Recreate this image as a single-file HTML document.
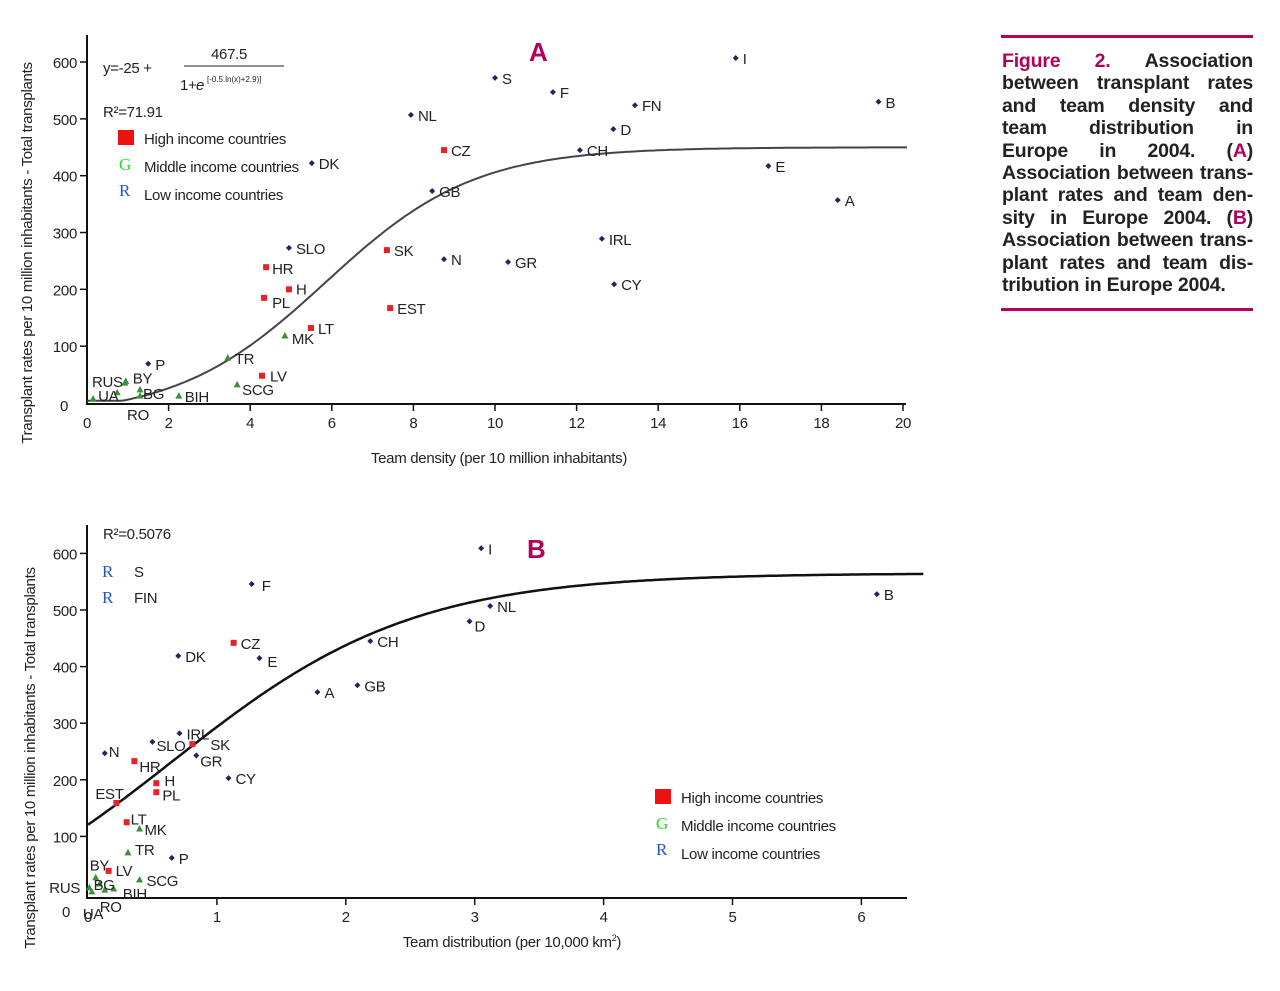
<!DOCTYPE html>
<html><head><meta charset="utf-8">
<style>
html,body{margin:0;padding:0;background:#fff;width:1280px;height:991px;overflow:hidden}
svg{position:absolute;left:0;top:0}
.t{font-family:"Liberation Sans Narrow","Liberation Sans",sans-serif;font-size:15px;letter-spacing:-0.3px;fill:#222}
.cap{position:absolute;left:1002px;top:50px;width:251px;font-family:"Liberation Sans",sans-serif;font-size:19.5px;font-weight:bold;color:#222;line-height:22.4px;letter-spacing:-0.2px}
.cap div{text-align:justify;text-align-last:justify;white-space:nowrap;height:22.4px}
.cap div.last{text-align-last:left}
.mag{color:#b5005a}
.rule{position:absolute;left:1001px;width:252px;height:3px;background:#b5005a}
</style></head><body>
<div class="rule" style="top:35px"></div>
<div class="rule" style="top:308px"></div>
<div class="cap">
<div><span class="mag">Figure&nbsp;&nbsp;2.</span>&nbsp;&nbsp;Association</div>
<div>between transplant rates</div>
<div>and team density and</div>
<div>team distribution in</div>
<div>Europe in 2004. (<span class="mag">A</span>)</div>
<div>Association between trans-</div>
<div>plant rates and team den-</div>
<div>sity in Europe 2004. (<span class="mag">B</span>)</div>
<div>Association between trans-</div>
<div>plant rates and team dis-</div>
<div class="last">tribution in Europe 2004.</div>
</div>
<svg id="svg" width="1280" height="991" xmlns="http://www.w3.org/2000/svg"></svg>
<script>
// Chart A data
const aNames = ["UA","RUS","","BY","BG","RO","P","BIH","TR","SCG","LV","MK","LT","PL","H","HR","SLO","DK","NL","GB","CZ","SK","EST","N","S","GR","F","CH","IRL","CY","D","FN","I","E","A","B"];
const aX = [0.15,0.93,0.74,0.95,1.3,1.3,1.5,2.25,3.45,3.68,4.29,4.85,5.49,4.34,4.95,4.39,4.95,5.51,7.94,8.46,8.75,7.35,7.43,8.75,10.0,10.32,11.42,12.08,12.62,12.92,12.9,13.43,15.9,16.7,18.4,19.4];
const aY = [7,35,18,38,23,12,69,12,79,32,48,118,132,185,200,239,273,422,507,373,445,269,167,253,572,248,547,445,289,209,482,524,607,417,357,530];
const aType = ["G","G","G","G","G","G","L","G","G","G","H","G","H","H","H","H","L","L","L","L","H","H","H","L","L","L","L","L","L","L","L","L","L","L","L","L"];
const aXTicks = [0,2,4,6,8,10,12,14,16,18,20];
const aYTicks = [0,100,200,300,400,500,600];
// Chart B data
const bNames = ["I","F","B","NL","D","CZ","CH","DK","E","GB","A","IRL","SK","SLO","GR","N","HR","CY","H","PL","EST","LT","MK","TR","P","LV","BY","BG","SCG","RUS","UA","RO","BIH"];
const bX = [3.05,1.27,6.12,3.12,2.96,1.13,2.19,0.70,1.33,2.09,1.78,0.71,0.81,0.50,0.84,0.13,0.36,1.09,0.53,0.53,0.22,0.30,0.40,0.31,0.65,0.16,0.06,0.09,0.40,0.01,0.03,0.13,0.20];
const bY = [609,546,528,507,480,442,445,419,415,367,355,282,263,267,243,247,233,203,194,178,159,125,113,71,62,39,27,16,23,9,2,5,7];
const bType = ["L","L","L","L","L","H","L","L","L","L","L","L","H","L","L","L","H","L","H","H","H","H","G","G","L","H","G","G","G","G","G","G","G"];
const bXTicks = [0,1,2,3,4,5,6];
const bYTicks = [0,100,200,300,400,500,600];

const svg = document.getElementById('svg');
const NS = "http://www.w3.org/2000/svg";
function mk(tag, attrs, parent){const e=document.createElementNS(NS,tag);for(const k in attrs)e.setAttribute(k,attrs[k]);(parent||svg).appendChild(e);return e;}
function txt(s,x,y,attrs){const e=mk('text',Object.assign({x:x,y:y,class:'t'},attrs||{}));e.textContent=s;return e;}

const ax = v => 87 + v*40.8, ay = v => 403 - v*0.5683;
const bx = v => 88 + v*128.9, by = v => 893 - v*0.566;

const labelOffA = {"UA":[5,2],"RUS":[-33,4],"BY":[7,2],"BG":[3,9],"RO":[-13,24],"BIH":[6,6],"SCG":[5,10],"LV":[8,6],"MK":[7,8],"PL":[8,10],"H":[7,5],"HR":[6,7],"P":[7,6]};
const labelOffB = {"RUS":[-40,5],"UA":[-9,27],"RO":[-5,22],"BIH":[9,10],"BY":[-6,-7],"LV":[7,5],"BG":[-6,6],"SCG":[7,6],"TR":[7,2],"LT":[4,2],"MK":[5,6],"EST":[-21,-4],"H":[8,3],"PL":[6,8],"HR":[5,11],"SLO":[4,9],"SK":[18,6],"GR":[4,11],"N":[4,4],"D":[5,10],"E":[8,9],"F":[10,7]};

function marker(x,y,t,g,name){
  let e;
  if(t==="H") e=mk('rect',{x:x-3,y:y-3,width:6,height:6,fill:'#e8202a'},g);
  else if(t==="G") e=mk('polygon',{points:`${x},${y-4} ${x+3.5},${y+2.5} ${x-3.5},${y+2.5}`,fill:'#3c8f3c'},g);
  else e=mk('polygon',{points:`${x},${y-3} ${x+3},${y} ${x},${y+3} ${x-3},${y}`,fill:'#2a2060'},g);
  
  
}

function drawChart(o){
  const g=mk('g',{});
  
  
  mk('line',{x1:87,y1:o.yTop,x2:87,y2:o.axisY,stroke:'#111','stroke-width':2},g);
  mk('line',{x1:86,y1:o.axisY,x2:o.xRight,y2:o.axisY,stroke:'#111','stroke-width':2},g);
  o.yTicks.forEach(v=>{const y=o.sy(v);
    if(v>0) mk('line',{x1:80,y1:y,x2:87,y2:y,stroke:'#111','stroke-width':1.5},g);
    const t=txt(String(v),v===0?o.zeroX:77,y+(v===0?o.zeroDy:6),{'text-anchor':'end'});
    });
  o.xTicks.forEach(v=>{const x=o.sx(v);
    if(v>0) mk('line',{x1:x,y1:o.axisY,x2:x,y2:o.axisY+7,stroke:'#111','stroke-width':1.5},g);
    const t=txt(String(v),x,o.axisY+24,{'text-anchor':'middle'});
    });
  let d="";
  for(let v=o.cStart; v<=o.cEnd+1e-9; v+=o.cStep){const x=o.sx(v),y=o.sy(o.fn(v));d+=(d?"L":"M")+x.toFixed(1)+","+y.toFixed(1);}
  const c=mk('path',{d:d,fill:'none',stroke:o.cColor,'stroke-width':o.cWidth},g);
  
  o.names.forEach((n,i)=>{const x=o.sx(o.xs[i]),y=o.sy(o.ys[i]);
    marker(x,y,o.types[i],g,n);
    if(n){const off=o.off[n]||[7,6];const t=txt(n,x+off[0],y+off[1]);
      }
  });
  const yt=txt("Transplant rates per 10 million inhabitants - Total transplants",0,0,{'text-anchor':'middle',transform:`translate(${o.ytX},${o.ytY}) rotate(-90)`});
  
}

drawChart({id:'chart-a',yTop:35,axisY:404,xRight:906,sx:ax,sy:ay,xTicks:aXTicks,yTicks:aYTicks,zeroX:68,zeroDy:8,
  fn:v=>Math.max(4,-25+475/(1+Math.exp(-(v-5.85)/1.82))),cStart:0,cEnd:20.1,cStep:0.1,cColor:'#444',cWidth:2,
  names:aNames,xs:aX,ys:aY,types:aType,off:labelOffA,ytX:32,ytY:253});
drawChart({id:'chart-b',yTop:525,axisY:898,xRight:907,sx:bx,sy:by,xTicks:bXTicks,yTicks:bYTicks,zeroX:70,zeroDy:24,
  fn:v=>Math.min(565,-100+665/(1+Math.exp(-(v-0.654)/0.934))),cStart:0,cEnd:6.48,cStep:0.02,cColor:'#111',cWidth:2.5,
  names:bNames,xs:bX,ys:bY,types:bType,off:labelOffB,ytX:35,ytY:758});

function ann(s,x,y,name,attrs){const t=txt(s,x,y,attrs);return t;}
ann("A",529,61,'panel-label-a',{style:'font-size:26px;font-weight:bold;fill:#b5005a'});
ann("B",527,558,'panel-label-b',{style:'font-size:26px;font-weight:bold;fill:#b5005a'});
ann("y=-25 +",103,73,'equation-lhs');
ann("467.5",211,59,'equation-numerator');
mk('line',{x1:184,y1:66,x2:284,y2:66,stroke:'#222','stroke-width':1});
ann("1+",180,90,'equation-denominator');
ann("e",196,90,'equation-e',{style:'font-style:italic'});
ann("[-0.5.ln(x)+2.9)]",207,82,'equation-exponent',{style:'font-size:8px;letter-spacing:0'});
ann("R²=71.91",103,117,'r-squared-a');
ann("R²=0.5076",103,539,'r-squared-b');

function legend(x,y,name){
  const g=mk('g',{});
  mk('rect',{x:x,y:y-14,width:16,height:15,fill:'#ee1111'},g);
  ann("G",x+1,y+26,'legend-g-symbol',{style:'fill:#22dd22;font-family:Liberation Serif,serif;font-size:17px'});
  ann("R",x+1,y+52,'legend-r-symbol',{style:'fill:#2255cc;font-family:Liberation Serif,serif;font-size:17px'});
  ann("High income countries",x+26,y,'legend-high-income');
  ann("Middle income countries",x+26,y+28,'legend-middle-income');
  ann("Low income countries",x+26,y+56,'legend-low-income');
}
legend(118,144,'legend-a');
legend(655,803,'legend-b');
ann("R",102,577,'note-s-symbol',{style:'fill:#2255cc;font-family:Liberation Serif,serif;font-size:17px'});
ann("S",134,577,'note-s');
ann("R",102,603,'note-fin-symbol',{style:'fill:#2255cc;font-family:Liberation Serif,serif;font-size:17px'});
ann("FIN",134,603,'note-fin');
ann("Team density (per 10 million inhabitants)",499,463,'x-axis-title-a',{'text-anchor':'middle'});
const xt=ann("",512,947,'x-axis-title-b',{'text-anchor':'middle'});
xt.innerHTML='Team distribution (per 10,000 km<tspan dy="-6" font-size="9">2</tspan><tspan dy="6">)</tspan>';
</script>
</body></html>
